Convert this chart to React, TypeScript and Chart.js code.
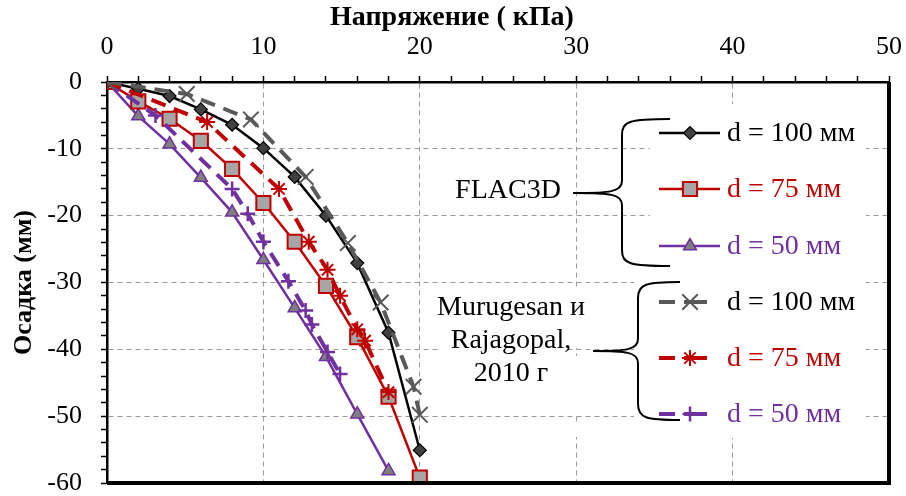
import React, { useEffect, useRef } from 'react';
import { Chart, registerables } from 'chart.js';
import { drawPoint } from 'chart.js/helpers';

Chart.register(...registerables);

// ---- data ----
const stressFlac100 = [0, 2, 4, 6, 8, 10, 12, 14, 16, 18, 20];
const settleFlac100 = [0, -1.0, -2.1, -4.1, -6.4, -9.9, -14.2, -20.0, -27.1, -37.5, -55.1];
const stressFlac75 = [0, 2, 4, 6, 8, 10, 12, 14, 16, 18, 20];
const settleFlac75 = [0, -2.9, -5.5, -8.8, -13.0, -18.1, -23.9, -30.5, -38.2, -47.1, -59.2];
const stressFlac50 = [0, 2, 4, 6, 8, 10, 12, 14, 16, 18];
const settleFlac50 = [0, -5.1, -9.3, -14.3, -19.5, -26.6, -33.8, -41.1, -49.7, -58.2];

const stressMr100 = [0, 5.1, 9.2, 12.7, 15.4, 17.5, 19.6, 20.0];
const settleMr100 = [0, -1.8, -5.6, -14.2, -24.1, -33.0, -45.6, -49.8];
const stressMr75 = [0, 6.4, 11.0, 12.9, 14.1, 14.9, 16.0, 16.5, 18.0];
const settleMr75 = [0, -6.0, -16.0, -23.9, -28.1, -32.0, -37.0, -38.7, -46.4];
const stressMr50 = [0, 3.1, 8.0, 9.0, 10.0, 11.6, 12.7, 13.1, 14.1, 14.9];
const settleMr50 = [0, -5.0, -16.0, -19.7, -23.9, -29.8, -34.2, -36.3, -40.4, -43.7];

const xAxisTitle = 'Напряжение ( кПа)';
const yAxisTitle = 'Осадка (мм)';
const xMin = 0;
const xMax = 50;
const yMin = -60;
const yMax = 0;
const minorStep = 2;
const labelStep = 10;

const seriesLabels = ['d = 100 мм', 'd = 75 мм', 'd = 50 мм'];
const groupFlac = 'FLAC3D';
const groupMr = ['Murugesan и', 'Rajagopal,', '2010 г'];

const BLACK = '#000000';
const RED = '#c00000';
const PURPLE = '#7030a0';
const GRAY = '#595959';
const SERIF = '"Liberation Serif", "Times New Roman", serif';

const zip = (xs: number[], ys: number[]) => xs.map((x, i) => ({ x, y: ys[i] }));

const flacStyles = [
  { line: BLACK, fill: '#404040', stroke: BLACK, pointStyle: 'rectRot', radius: 6.5, bw: 1.2 },
  { line: RED, fill: '#a6a6a6', stroke: RED, pointStyle: 'rect', radius: 10, bw: 2 },
  { line: PURPLE, fill: '#7f7f7f', stroke: PURPLE, pointStyle: 'triangle', radius: 7.5, bw: 1.5 },
];
const mrStyles = [
  { line: GRAY, fill: GRAY, stroke: GRAY, pointStyle: 'crossRot', radius: 11, bw: 2 },
  { line: RED, fill: RED, stroke: RED, pointStyle: 'star', radius: 8, bw: 2 },
  { line: PURPLE, fill: PURPLE, stroke: PURPLE, pointStyle: 'cross', radius: 7.5, bw: 2.5 },
];
const DASH = [15, 9];

const legendPlugin = {
  id: 'customLegend',
  beforeDatasetsDraw(chart: any) {
    // white areas behind the legend / text blocks (hide grid lines there)
    const ctx = chart.ctx;
    ctx.save();
    ctx.fillStyle = '#ffffff';
    ctx.fillRect(650, 104, 216, 170);
    ctx.fillRect(634, 274, 232, 164);
    ctx.fillRect(440, 292, 127, 98);
    ctx.fillRect(570, 288, 12, 60);
    ctx.fillRect(570, 356, 12, 60);
    ctx.fillRect(570, 423, 12, 14);
    ctx.restore();
  },
  afterDraw(chart: any) {
    const ctx = chart.ctx;
    const a = chart.chartArea;
    ctx.save();
    // frame right / bottom
    ctx.strokeStyle = '#000';
    ctx.lineWidth = 4;
    ctx.beginPath();
    ctx.moveTo(a.left, a.bottom);
    ctx.lineTo(a.right, a.bottom);
    ctx.lineTo(a.right, a.top);
    ctx.stroke();

    // x axis title
    ctx.fillStyle = '#000';
    ctx.font = `bold 28px ${SERIF}`;
    ctx.textAlign = 'center';
    ctx.textBaseline = 'middle';
    ctx.fillText(xAxisTitle, 452, 18);

    // brackets
    const bracket = (xEnd: number, xV: number, xTip: number, yTop: number, yMid: number, yBot: number) => {
      ctx.strokeStyle = '#000';
      ctx.lineWidth = 2;
      ctx.beginPath();
      ctx.moveTo(xEnd, yTop);
      ctx.bezierCurveTo(xV + 8, yTop, xV, yTop + 2, xV, yTop + 16);
      ctx.lineTo(xV, yMid - 12);
      ctx.bezierCurveTo(xV, yMid - 1, xV - 12, yMid, xTip, yMid);
      ctx.moveTo(xTip, yMid);
      ctx.bezierCurveTo(xV - 12, yMid, xV, yMid + 1, xV, yMid + 12);
      ctx.lineTo(xV, yBot - 16);
      ctx.bezierCurveTo(xV, yBot - 2, xV + 8, yBot, xEnd, yBot);
      ctx.stroke();
    };
    bracket(670, 622, 573, 119, 193, 266);
    bracket(680, 638, 593, 282, 351, 420);

    ctx.font = `28px ${SERIF}`;
    ctx.textBaseline = 'middle';
    ctx.fillStyle = '#000';
    ctx.textAlign = 'center';
    ctx.fillText(groupFlac, 508, 191);
    groupMr.forEach((t, i) => ctx.fillText(t, 511, 308 + i * 33));

    const colors = [BLACK, RED, PURPLE];
    const rows1 = [133, 189, 246];
    const rows2 = [302, 358, 414];
    ctx.textAlign = 'left';
    for (let i = 0; i < 3; i++) {
      // FLAC entry
      const s = flacStyles[i];
      let y = rows1[i];
      ctx.strokeStyle = s.line;
      ctx.lineWidth = 2.5;
      ctx.setLineDash([]);
      ctx.beginPath();
      ctx.moveTo(659, y);
      ctx.lineTo(720, y);
      ctx.stroke();
      ctx.fillStyle = s.fill;
      ctx.strokeStyle = s.stroke;
      ctx.lineWidth = s.bw;
      drawPoint(ctx, { pointStyle: s.pointStyle, radius: s.radius, rotation: 0, borderWidth: s.bw }, 690, y);
      ctx.fillStyle = colors[i];
      ctx.fillText(seriesLabels[i], 727, y + 1);

      // Murugesan entry
      const m = mrStyles[i];
      y = rows2[i];
      ctx.strokeStyle = m.line;
      ctx.lineWidth = 4;
      ctx.beginPath();
      ctx.moveTo(659, y);
      ctx.lineTo(675, y);
      ctx.moveTo(684, y);
      ctx.lineTo(707, y);
      ctx.stroke();
      ctx.lineWidth = m.bw;
      ctx.fillStyle = m.fill;
      drawPoint(ctx, { pointStyle: m.pointStyle, radius: m.radius, rotation: 0, borderWidth: m.bw }, 690, y);
      ctx.fillStyle = colors[i];
      ctx.fillText(seriesLabels[i], 727, y + 1);
    }
    ctx.restore();
  },
};

export default function App() {
  const ref = useRef<HTMLCanvasElement | null>(null);
  useEffect(() => {
    if (!ref.current) return;
    const mrSets = [
      [stressMr100, settleMr100],
      [stressMr75, settleMr75],
      [stressMr50, settleMr50],
    ].map(([xs, ys], i) => ({
      label: 'Murugesan и Rajagopal ' + seriesLabels[i],
      data: zip(xs, ys),
      borderColor: mrStyles[i].line,
      borderWidth: 4,
      borderDash: DASH,
      pointStyle: mrStyles[i].pointStyle,
      pointRadius: mrStyles[i].radius,
      pointBorderWidth: mrStyles[i].bw,
      pointBorderColor: mrStyles[i].stroke,
      pointBackgroundColor: mrStyles[i].fill,
      tension: 0,
      showLine: true,
    }));
    const flacSets = [
      [stressFlac100, settleFlac100],
      [stressFlac75, settleFlac75],
      [stressFlac50, settleFlac50],
    ].map(([xs, ys], i) => ({
      label: 'FLAC3D ' + seriesLabels[i],
      data: zip(xs, ys),
      borderColor: flacStyles[i].line,
      borderWidth: 2.5,
      pointStyle: flacStyles[i].pointStyle,
      pointRadius: flacStyles[i].radius,
      pointBorderWidth: flacStyles[i].bw,
      pointBorderColor: flacStyles[i].stroke,
      pointBackgroundColor: flacStyles[i].fill,
      tension: 0,
      showLine: true,
    }));

    const gridColor = (c: any) => {
      const v = c.tick ? c.tick.value : NaN;
      if (Math.abs(v % labelStep) > 1e-6) return 'rgba(0,0,0,0)';
      if (v === xMin || v === xMax || v === yMin || v === yMax) return 'rgba(0,0,0,0)';
      return '#9a9a9a';
    };

    const chart = new Chart(ref.current, {
      type: 'scatter',
      data: { datasets: [...mrSets, ...flacSets] },
      plugins: [legendPlugin],
      options: {
        animation: false,
        responsive: false,
        maintainAspectRatio: false,
        layout: { padding: { left: 0, top: 0, right: 17, bottom: 9 } },
        plugins: { legend: { display: false }, tooltip: { enabled: false } },
        scales: {
          x: {
            type: 'linear',
            position: 'top',
            min: xMin,
            max: xMax,
            afterFit: (s: any) => {
              s.height = 82;
              s.paddingLeft = 0;
              s.paddingRight = 0;
            },
            ticks: {
              stepSize: minorStep,
              autoSkip: false,
              maxRotation: 0,
              padding: 13,
              color: '#000',
              font: { family: SERIF, size: 26 },
              callback: (v: any) => (Math.abs(v % labelStep) < 1e-6 ? String(v) : ''),
            },
            grid: { color: gridColor, tickColor: '#000', tickLength: 6, lineWidth: 1, tickWidth: 1.5 },
            border: { display: true, color: '#000', width: 2.5, dash: [5, 4] },
            title: { display: false },
          },
          y: {
            type: 'linear',
            position: 'left',
            min: yMin,
            max: yMax,
            afterFit: (s: any) => {
              s.width = 107;
              s.paddingTop = 0;
              s.paddingBottom = 0;
            },
            ticks: {
              stepSize: minorStep,
              autoSkip: false,
              padding: 19,
              color: '#000',
              font: { family: SERIF, size: 26 },
              callback: (v: any) => (Math.abs(v % labelStep) < 1e-6 ? String(v) : ''),
            },
            grid: { color: gridColor, tickColor: '#000', tickLength: 6, lineWidth: 1, tickWidth: 1.5 },
            border: { display: true, color: '#000', width: 2.5, dash: [5, 4] },
            title: {
              display: true,
              text: yAxisTitle,
              color: '#000',
              font: { family: SERIF, size: 26, weight: 'bold' },
              padding: { top: 9, bottom: 0 },
            },
          },
        },
      },
    } as any);
    return () => chart.destroy();
  }, []);

  return (
    <div style={{ position: 'fixed', left: 0, top: 0, width: 906, height: 496, background: '#fff' }}>
      <canvas ref={ref} width={906} height={496} style={{ width: 906, height: 496, display: 'block' }} />
    </div>
  );
}
